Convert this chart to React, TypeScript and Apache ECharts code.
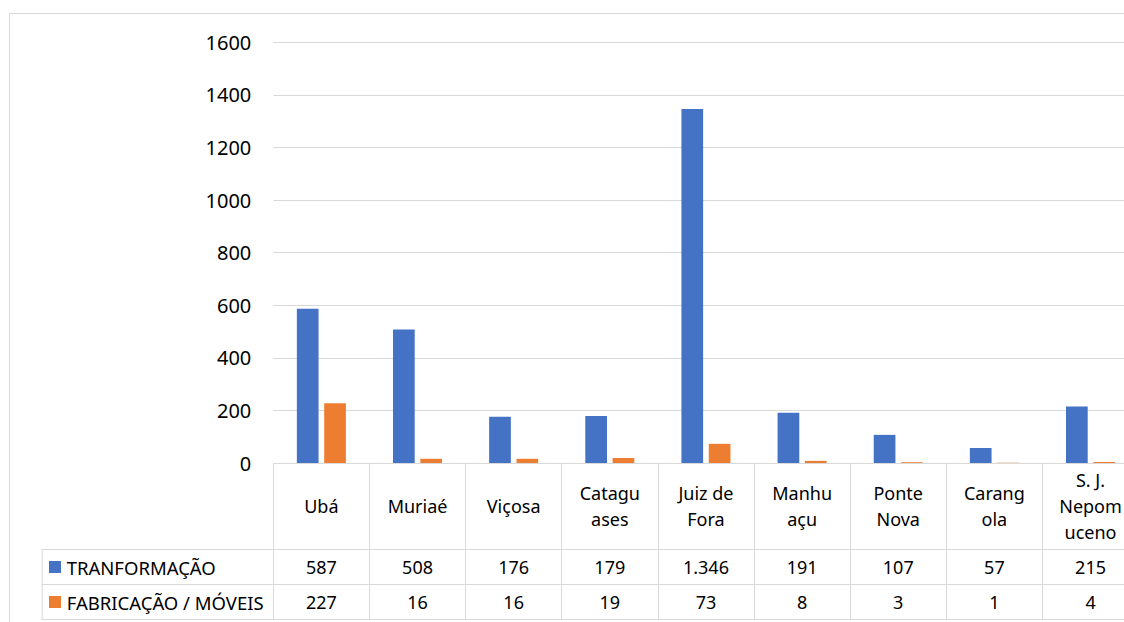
import React, { useEffect, useRef } from 'react';
import * as echarts from 'echarts';

const categories = [
  'Ubá',
  'Muriaé',
  'Viçosa',
  'Catagu\nases',
  'Juiz de\nFora',
  'Manhu\naçu',
  'Ponte\nNova',
  'Carang\nola',
  'S. J.\nNepom\nuceno',
];
const seriesNames = ['TRANFORMAÇÃO', 'FABRICAÇÃO / MÓVEIS'];
const transformacao = [587, 508, 176, 179, 1346, 191, 107, 57, 215];
const fabricacao = [227, 16, 16, 19, 73, 8, 3, 1, 4];
const colors = ['#4472C4', '#ED7D31'];
const yMin = 0;
const yMax = 1600;
const yInterval = 200;

const FONT = '"Noto Sans", sans-serif';
const W = 1160;
const H = 640;
const GRID_LEFT = 273.3;
const GRID_RIGHT_X = 1138.6;
const GRID_TOP = 42.3;
const AXIS_Y = 463;
const ROW1_TOP = 549;
const ROW2_TOP = 584;
const TABLE_BOTTOM = 619;
const LEGEND_LEFT = 41.7;
const LINE = '#d9d9d9';

function fmt(n: number): string {
  return String(n).replace(/\B(?=(\d{3})+(?!\d))/g, '.');
}

export default function App() {
  const ref = useRef<HTMLDivElement>(null);
  useEffect(() => {
    if (!ref.current) return;
    const chart = echarts.init(ref.current, null, { renderer: 'svg' });
    const option: any = {
      animation: false,
      textStyle: { fontFamily: FONT },
      grid: {
        left: GRID_LEFT,
        right: W - GRID_RIGHT_X,
        top: GRID_TOP,
        bottom: H - AXIS_Y,
        containLabel: false,
      },
      xAxis: {
        type: 'category',
        data: categories,
        axisLine: { show: true, lineStyle: { color: LINE, width: 1 } },
        axisTick: { show: true, length: TABLE_BOTTOM - AXIS_Y, lineStyle: { color: LINE, width: 1 } },
        axisLabel: {
          interval: 0,
          margin: (ROW1_TOP - AXIS_Y) / 2,
          verticalAlign: 'middle',
          lineHeight: 26,
          fontSize: 18,
          color: '#000',
          fontFamily: FONT,
        },
      },
      yAxis: {
        type: 'value',
        min: yMin,
        max: yMax,
        interval: yInterval,
        axisLine: { show: false },
        axisTick: { show: false },
        splitLine: { lineStyle: { color: LINE, width: 1 } },
        axisLabel: {
          fontSize: 20,
          color: '#000',
          margin: 22,
          fontFamily: FONT,
          formatter: (v: number) => String(v),
        },
      },
      series: [
        {
          name: seriesNames[0],
          type: 'bar',
          data: transformacao,
          barWidth: 21.7,
          barGap: '26%',
          itemStyle: { color: colors[0] },
        },
        {
          name: seriesNames[1],
          type: 'bar',
          data: fabricacao,
          barWidth: 21.7,
          barGap: '26%',
          itemStyle: { color: colors[1] },
        },
      ],
    };
    chart.setOption(option);

    const rows = [transformacao, fabricacao];
    const rowTops = [ROW1_TOP, ROW2_TOP, TABLE_BOTTOM];
    const graphics: any[] = [];
    graphics.push({
      type: 'rect',
      shape: { x: 9.5, y: 13.5, width: 1400, height: 900 },
      style: { fill: 'none', stroke: LINE, lineWidth: 1 },
      silent: true,
    });
    rowTops.forEach((y) => {
      graphics.push({
        type: 'line',
        shape: { x1: LEGEND_LEFT, y1: y + 0.5, x2: GRID_RIGHT_X, y2: y + 0.5 },
        style: { stroke: LINE, lineWidth: 1 },
        silent: true,
      });
    });
    graphics.push({
      type: 'line',
      shape: { x1: LEGEND_LEFT + 0.5, y1: ROW1_TOP, x2: LEGEND_LEFT + 0.5, y2: TABLE_BOTTOM + 0.5 },
      style: { stroke: LINE, lineWidth: 1 },
      silent: true,
    });
    rows.forEach((vals, r) => {
      const cy = (rowTops[r] + rowTops[r + 1]) / 2 + 0.5;
      graphics.push({
        type: 'rect',
        shape: { x: 49, y: cy - 6, width: 12, height: 12 },
        style: { fill: colors[r] },
        silent: true,
      });
      graphics.push({
        type: 'text',
        x: 66.7,
        y: cy,
        style: {
          text: seriesNames[r],
          fontSize: 18.5,
          fontFamily: FONT,
          fill: '#000',
          verticalAlign: 'middle',
          align: 'left',
        },
        silent: true,
      });
      vals.forEach((v, i) => {
        const px = chart.convertToPixel({ xAxisIndex: 0 }, i) as number;
        graphics.push({
          type: 'text',
          x: px,
          y: cy,
          style: {
            text: fmt(v),
            fontSize: 18,
            fontFamily: FONT,
            fill: '#000',
            verticalAlign: 'middle',
            align: 'center',
          },
          silent: true,
        });
      });
    });
    chart.setOption({ graphic: graphics });
    return () => chart.dispose();
  }, []);

  return (
    <div
      style={{
        position: 'fixed',
        left: 0,
        top: 0,
        width: 1124,
        height: 622,
        overflow: 'hidden',
        background: '#fff',
      }}
    >
      <div ref={ref} style={{ position: 'absolute', left: 0, top: 0, width: W, height: H }} />
    </div>
  );
}
